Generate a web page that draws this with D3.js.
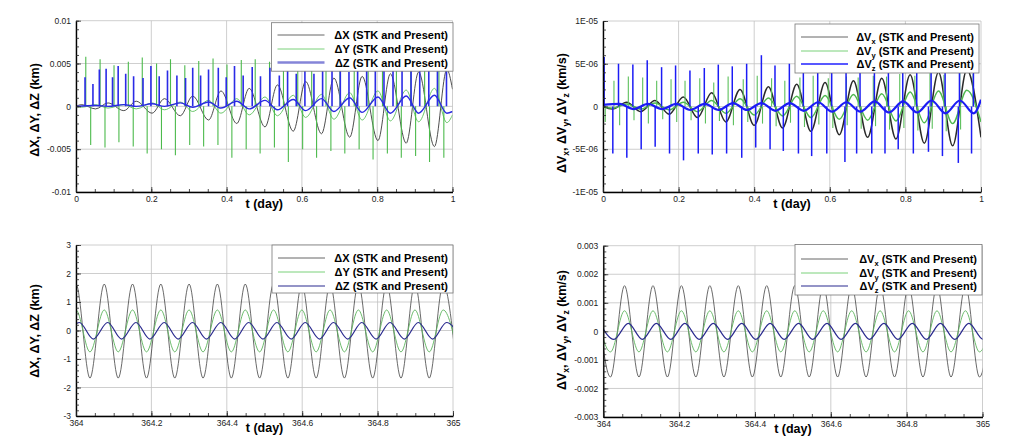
<!DOCTYPE html>
<html>
<head>
<meta charset="utf-8">
<script src="https://cdn.jsdelivr.net/npm/d3@7"></script>
<style>
body { margin: 0; background: #fff; }
text { font-family: Arial, "Liberation Sans", sans-serif; }
</style>
</head>
<body>
<svg id="chart" width="1023" height="444"></svg>
<script>
// ---------- top-left: position error, first day ----------
const tlX = [[0,0],[0.015,0.0002],[0.052,-0.0003],[0.085,0.0004],[0.127,-0.0005],[0.16,0.0006],[0.202,-0.0008],[0.235,0.0009],[0.277,-0.0011],[0.31,0.0012],[0.352,-0.0016],[0.385,0.0018],[0.427,-0.002],[0.46,0.0021],[0.502,-0.0024],[0.535,0.0025],[0.577,-0.0029],[0.61,0.0029],[0.652,-0.0032],[0.685,0.0033],[0.727,-0.0036],[0.76,0.0035],[0.802,-0.004],[0.835,0.0038],[0.877,-0.0043],[0.91,0.004],[0.952,-0.0047],[0.985,0.0043],[1.0,0.002]];
const tlY = [[0,0],[0.015,-0.0001],[0.052,0.0002],[0.085,-0.0002],[0.127,0.0002],[0.16,-0.0003],[0.202,0.0004],[0.235,-0.0004],[0.277,0.0005],[0.31,-0.0006],[0.352,0.0007],[0.385,-0.0008],[0.427,0.0009],[0.46,-0.001],[0.502,0.0011],[0.535,-0.0011],[0.577,0.0013],[0.61,-0.0013],[0.652,0.0014],[0.685,-0.0015],[0.727,0.0016],[0.76,-0.0016],[0.802,0.0018],[0.835,-0.0017],[0.877,0.0019],[0.91,-0.0018],[0.952,0.0021],[0.985,-0.0019],[1.0,-0.001]];
const tlZ = [[0,0],[0.052,0.0001],[0.085,0],[0.127,0.0002],[0.16,0],[0.202,0.0003],[0.235,0],[0.277,0.0004],[0.31,-0.0001],[0.352,0.0005],[0.385,-0.0002],[0.427,0.0006],[0.46,-0.0003],[0.502,0.0007],[0.535,-0.0004],[0.577,0.0008],[0.61,-0.0005],[0.652,0.0009],[0.685,-0.0006],[0.727,0.001],[0.76,-0.0007],[0.802,0.0011],[0.835,-0.0008],[0.877,0.0012],[0.91,-0.0008],[0.952,0.0013],[0.985,-0.0008],[1.0,-0.0006]];
const tlZSpk = [[0.000,0.0050],[0.024,0.0034],[0.045,0.0026],[0.062,0.0043],[0.080,0.0044],[0.097,0.0034],[0.112,0.0047],[0.132,0.0038],[0.153,0.0035],[0.178,0.0033],[0.199,0.0047],[0.221,0.0035],[0.243,0.0042],[0.268,0.0036],[0.291,0.0033],[0.310,0.0045],[0.331,0.0036],[0.352,0.0043],[0.378,0.0045],[0.399,0.0034],[0.421,0.0047],[0.444,0.0036],[0.468,0.0046],[0.490,0.0035],[0.515,0.0045],[0.540,0.0036],[0.562,0.0045],[0.585,0.0038],[0.608,0.0046],[0.632,0.0038],[0.655,0.0046],[0.680,0.0042],[0.702,0.0046],[0.725,0.0040],[0.748,0.0047],[0.772,0.0042],[0.795,0.0048],[0.818,0.0042],[0.842,0.0048],[0.866,0.0043],[0.890,0.0048],[0.913,0.0044],[0.937,0.0048],[0.960,0.0045],[0.984,0.0048]];
const tlYUp = [[0.026,0.0058],[0.064,0.0055],[0.101,0.0048],[0.139,0.0052],[0.176,0.0057],[0.214,0.005],[0.251,0.0055],[0.289,0.0048],[0.326,0.0053],[0.364,0.0056],[0.401,0.0049],[0.439,0.0054],[0.476,0.0055],[0.514,0.0052],[0.551,0.0057],[0.589,0.0056],[0.626,0.005],[0.664,0.0055],[0.701,0.0054],[0.739,0.0049],[0.776,0.0055],[0.814,0.0056],[0.851,0.0052],[0.889,0.0055],[0.926,0.0054],[0.964,0.0056]];
const tlYDn = [[0.039,-0.0045],[0.077,-0.0048],[0.114,-0.0042],[0.152,-0.0047],[0.189,-0.0055],[0.227,-0.005],[0.264,-0.0057],[0.302,-0.0045],[0.339,-0.0047],[0.377,-0.0045],[0.414,-0.006],[0.452,-0.005],[0.489,-0.0055],[0.527,-0.0048],[0.564,-0.0065],[0.602,-0.005],[0.639,-0.006],[0.677,-0.0052],[0.714,-0.0055],[0.752,-0.005],[0.789,-0.0062],[0.827,-0.0055],[0.864,-0.006],[0.902,-0.0058],[0.939,-0.0065],[0.977,-0.006]];

// ---------- top-right: velocity error, first day ----------
const trX = [[0,0],[0.025,-0.3e-6],[0.0625,0.5e-6],[0.1,-0.6e-6],[0.1375,0.7e-6],[0.175,-0.9e-6],[0.2125,1.1e-6],[0.25,-1.3e-6],[0.2875,1.6e-6],[0.325,-1.8e-6],[0.3625,2.0e-6],[0.4,-2.2e-6],[0.4375,2.3e-6],[0.475,-2.5e-6],[0.5125,2.6e-6],[0.55,-2.9e-6],[0.5875,2.8e-6],[0.625,-3.3e-6],[0.6625,3.0e-6],[0.7,-3.6e-6],[0.7375,3.3e-6],[0.775,-3.8e-6],[0.8125,3.7e-6],[0.85,-4.3e-6],[0.8875,4.0e-6],[0.925,-4.6e-6],[0.9625,4.3e-6],[1.0,-3.6e-6]];
const trY = [[0,0],[0.025,-0.2e-6],[0.0625,0.3e-6],[0.1,-0.3e-6],[0.1375,0.4e-6],[0.175,-0.4e-6],[0.2125,0.5e-6],[0.25,-0.6e-6],[0.2875,0.7e-6],[0.325,-0.8e-6],[0.3625,0.9e-6],[0.4,-1.0e-6],[0.4375,1.0e-6],[0.475,-1.1e-6],[0.5125,1.2e-6],[0.55,-1.3e-6],[0.5875,1.3e-6],[0.625,-1.5e-6],[0.6625,1.4e-6],[0.7,-1.6e-6],[0.7375,1.5e-6],[0.775,-1.7e-6],[0.8125,1.7e-6],[0.85,-1.9e-6],[0.8875,1.8e-6],[0.925,-2.0e-6],[0.9625,1.9e-6],[1.0,-1.8e-6]];
const trZ = [[0,0.2e-6],[0.044,0.3e-6],[0.081,-0.3e-6],[0.119,0.3e-6],[0.156,-0.3e-6],[0.194,0.3e-6],[0.231,-0.4e-6],[0.269,0.3e-6],[0.306,-0.4e-6],[0.344,0.4e-6],[0.381,-0.4e-6],[0.419,0.4e-6],[0.456,-0.5e-6],[0.494,0.4e-6],[0.531,-0.5e-6],[0.569,0.5e-6],[0.606,-0.6e-6],[0.644,0.5e-6],[0.681,-0.6e-6],[0.719,0.6e-6],[0.756,-0.7e-6],[0.794,0.6e-6],[0.831,-0.7e-6],[0.869,0.7e-6],[0.906,-0.8e-6],[0.944,0.7e-6],[0.981,-0.8e-6],[1.0,0.8e-6]];
const trZUp = [[0.003,5.8e-6],[0.041,5.0e-6],[0.079,4.9e-6],[0.117,5.4e-6],[0.155,4.6e-6],[0.192,4.8e-6],[0.23,4.2e-6],[0.268,4.5e-6],[0.305,4.9e-6],[0.342,4.7e-6],[0.38,5.0e-6],[0.419,6.0e-6],[0.455,4.8e-6],[0.493,5.0e-6],[0.53,5.2e-6],[0.568,4.9e-6],[0.605,5.0e-6],[0.643,5.1e-6],[0.68,4.8e-6],[0.718,5.0e-6],[0.755,5.1e-6],[0.793,4.9e-6],[0.83,5.0e-6],[0.868,5.1e-6],[0.905,5.0e-6],[0.943,5.2e-6],[0.98,5.0e-6]];
const trZDn = [[0.026,-5.5e-6],[0.063,-6.0e-6],[0.101,-5.0e-6],[0.138,-4.7e-6],[0.176,-5.5e-6],[0.213,-6.3e-6],[0.252,-5.5e-6],[0.289,-5.6e-6],[0.327,-5.5e-6],[0.367,-6.0e-6],[0.404,-4.8e-6],[0.442,-5.0e-6],[0.477,-5.2e-6],[0.517,-5.5e-6],[0.552,-5.8e-6],[0.592,-5.5e-6],[0.64,-6.5e-6],[0.671,-5.5e-6],[0.711,-5.5e-6],[0.746,-5.5e-6],[0.781,-5.0e-6],[0.821,-5.5e-6],[0.861,-5.3e-6],[0.898,-5.8e-6],[0.94,-6.6e-6],[0.975,-5.5e-6]];
const trYUp = [[0.029,3.0e-6],[0.067,3.5e-6],[0.105,3.4e-6],[0.142,3.0e-6],[0.18,3.2e-6],[0.217,3.0e-6],[0.256,3.3e-6],[0.293,2.8e-6],[0.331,3.5e-6],[0.371,3.2e-6],[0.408,3.6e-6],[0.446,3.3e-6],[0.481,3.0e-6],[0.521,3.4e-6],[0.556,3.6e-6],[0.596,3.3e-6],[0.644,3.5e-6],[0.675,3.4e-6],[0.715,3.6e-6],[0.75,3.5e-6],[0.785,3.8e-6],[0.825,3.6e-6],[0.865,3.9e-6],[0.902,3.7e-6],[0.944,4.0e-6],[0.979,3.8e-6]];
const trYDn = [[0.006,-1.8e-6],[0.044,-2.2e-6],[0.082,-1.6e-6],[0.12,-2.0e-6],[0.158,-1.5e-6],[0.195,-1.8e-6],[0.233,-1.6e-6],[0.271,-2.0e-6],[0.308,-1.7e-6],[0.345,-2.2e-6],[0.383,-1.8e-6],[0.422,-2.0e-6],[0.458,-2.3e-6],[0.496,-1.9e-6],[0.533,-2.4e-6],[0.571,-2.1e-6],[0.608,-2.5e-6],[0.646,-2.2e-6],[0.683,-2.6e-6],[0.721,-2.3e-6],[0.758,-2.7e-6],[0.796,-2.5e-6],[0.833,-2.8e-6],[0.871,-2.6e-6],[0.908,-2.9e-6],[0.946,-2.7e-6]];

// ---------- bottom-left: position error, last day (extrema times and values) ----------
const cPeakT    = [364.000,364.075,364.150,364.225,364.300,364.375,364.449,364.524,364.599,364.674,364.749,364.824,364.899,364.974];
const cTroughT  = [363.963,364.037,364.112,364.187,364.262,364.337,364.412,364.487,364.562,364.637,364.712,364.787,364.862,364.937,365.012];
const cZPeakT   = [364.009,364.084,364.159,364.234,364.309,364.384,364.458,364.533,364.608,364.683,364.758,364.833,364.908,364.983];
const cZTroughT = [363.972,364.046,364.121,364.196,364.271,364.346,364.421,364.496,364.571,364.646,364.721,364.796,364.871,364.946,365.021];
const cX = [1.63, -1.67];   // value at peaks, value at troughs
const cY = [0.72, -0.75];
const cZ = [0.28, -0.30];

// ---------- bottom-right: velocity error, last day ----------
const dPeakT    = [363.981,364.056,364.131,364.206,364.281,364.356,364.431,364.505,364.580,364.655,364.730,364.805,364.880,364.955,365.030];
const dTroughT  = [364.019,364.094,364.169,364.244,364.318,364.393,364.468,364.543,364.618,364.693,364.768,364.843,364.917,364.992];
const dZPeakT   = [363.991,364.066,364.140,364.215,364.290,364.365,364.440,364.515,364.590,364.665,364.740,364.815,364.889,364.964,365.039];
const dZTroughT = [364.028,364.103,364.178,364.253,364.328,364.402,364.477,364.552,364.627,364.702,364.777,364.852,364.927,365.002];
const dX = [0.0016, -0.0016];
const dY = [0.00072, -0.00072];
const dZ = [0.00028, -0.00028];

// ---------- ticks ----------
const tDayTicks = [0, 0.2, 0.4, 0.6, 0.8, 1];
const tDayLabels = ['0', '0.2', '0.4', '0.6', '0.8', '1'];
const t364Ticks = [364, 364.2, 364.4, 364.6, 364.8, 365];
const t364Labels = ['364', '364.2', '364.4', '364.6', '364.8', '365'];
const posTicks1 = [-0.01, -0.005, 0, 0.005, 0.01];
const posLabels1 = ['-0.01', '-0.005', '0', '0.005', '0.01'];
const velTicks1 = [-1e-5, -5e-6, 0, 5e-6, 1e-5];
const velLabels1 = ['-1E-05', '-5E-06', '0', '5E-06', '1E-05'];
const posTicks2 = [-3, -2, -1, 0, 1, 2, 3];
const posLabels2 = ['-3', '-2', '-1', '0', '1', '2', '3'];
const velTicks2 = [-0.003, -0.002, -0.001, 0, 0.001, 0.002, 0.003];
const velLabels2 = ['-0.003', '-0.002', '-0.001', '0', '0.001', '0.002', '0.003'];

function merge(peakT, troughT, amp) {
    let pts = peakT.map(t => [t, amp[0]]).concat(troughT.map(t => [t, amp[1]]));
    return pts.sort((a, b) => a[0] - b[0]);
}

const svg = d3.select('#chart');

function panel(o) {
    const x = d3.scaleLinear().domain(o.xDom).range([o.l, o.r]);
    const y = d3.scaleLinear().domain(o.yDom).range([o.b, o.t]);
    const g = svg.append('g');

    // grid
    g.selectAll(null).data(o.xTicks).join('line')
        .attr('x1', d => x(d)).attr('x2', d => x(d))
        .attr('y1', o.t).attr('y2', o.b)
        .attr('stroke', '#c2c2c2').attr('stroke-width', 0.8);
    g.selectAll(null).data(o.yTicks).join('line')
        .attr('x1', o.l).attr('x2', o.r)
        .attr('y1', d => y(d)).attr('y2', d => y(d))
        .attr('stroke', '#c2c2c2').attr('stroke-width', 0.8);

    svg.append('clipPath').attr('id', o.id).append('rect')
        .attr('x', o.l).attr('y', o.t).attr('width', o.r - o.l).attr('height', o.b - o.t);
    const plot = g.append('g').attr('clip-path', `url(#${o.id})`);

    const line = d3.line().x(d => x(d[0])).y(d => y(d[1])).curve(d3.curveMonotoneX);

    o.series.forEach(s => {
        plot.append('path').datum(s.data)
            .attr('d', line)
            .attr('fill', 'none')
            .attr('stroke', s.color)
            .attr('stroke-width', s.w);
        (s.spikes || []).forEach(sp => {
            plot.selectAll(null).data(sp.data).join('line')
                .attr('x1', d => x(d[0])).attr('x2', d => x(d[0]))
                .attr('y1', y(0)).attr('y2', d => y(d[1]))
                .attr('stroke', sp.color).attr('stroke-width', sp.w);
        });
    });

    // axes
    const yAxis = g.append('g').attr('transform', `translate(${o.l},0)`)
        .call(d3.axisLeft(y).tickValues(o.yTicks).tickFormat((d, i) => o.yLabels[i])
            .tickSizeInner(-5).tickSizeOuter(0).tickPadding(5));
    const yMinor = g.append('g').attr('transform', `translate(${o.l},0)`)
        .call(d3.axisLeft(y).tickValues(o.yMinor).tickFormat('').tickSizeInner(-3).tickSizeOuter(0));
    const xAxis = g.append('g').attr('transform', `translate(0,${o.b})`)
        .call(d3.axisBottom(x).tickValues(o.xTicks).tickFormat((d, i) => o.xLabels[i])
            .tickSizeInner(-5).tickSizeOuter(0).tickPadding(4));
    const xMinor = g.append('g').attr('transform', `translate(0,${o.b})`)
        .call(d3.axisBottom(x).tickValues(o.xMinor).tickFormat('').tickSizeInner(-3).tickSizeOuter(0));
    [yMinor, xMinor].forEach(a => a.select('.domain').remove());
    [yAxis, xAxis, yMinor, xMinor].forEach(a => {
        a.selectAll('.domain').attr('stroke', '#000').attr('stroke-width', 1.4);
        a.selectAll('.tick line').attr('stroke', '#222').attr('stroke-width', 0.8);
        a.selectAll('text').attr('font-size', 8.5).attr('fill', '#222')
            .attr('font-family', 'Arial, "Liberation Sans", sans-serif');
    });

    // axis titles
    g.append('text')
        .attr('x', (o.l + o.r) / 2).attr('y', o.b + 16)
        .attr('text-anchor', 'middle').attr('font-weight', 'bold').attr('font-size', 12.5)
        .text('t (day)');
    const yt = g.append('text')
        .attr('transform', `translate(${o.yTitleX},${o.yTitleY}) rotate(-90)`)
        .attr('text-anchor', 'middle').attr('font-weight', 'bold').attr('font-size', 12.5);
    o.yTitle.forEach(part => {
        if (part.sub) {
            yt.append('tspan').attr('font-size', 8.5).attr('dy', 3).text(part.sub);
            yt.append('tspan').attr('dy', -3).text(part.txt || '');
        } else {
            yt.append('tspan').text(part.txt);
        }
    });

    // legend
    const L = o.legend;
    g.append('rect').attr('x', L.l).attr('y', L.t).attr('width', L.w).attr('height', L.h)
        .attr('fill', '#fff').attr('stroke', '#777').attr('stroke-width', 0.8);
    L.rows.forEach(r => {
        g.append('line').attr('x1', L.l + 6).attr('x2', L.l + 53)
            .attr('y1', r.y).attr('y2', r.y)
            .attr('stroke', r.color).attr('stroke-width', r.w);
        const tx = g.append('text').attr('x', L.l + L.w - 5).attr('y', r.y + 4)
            .attr('text-anchor', 'end').attr('font-weight', 'bold').attr('font-size', 11);
        tx.append('tspan').text(r.main);
        if (r.sub) {
            tx.append('tspan').attr('font-size', 7.5).attr('dy', 3).text(r.sub);
            tx.append('tspan').attr('dy', -3).text(' (STK and Present)');
        } else {
            tx.append('tspan').text(' (STK and Present)');
        }
    });
}

const dayMinor = d3.range(0, 1.0001, 0.05);
const d364Minor = d3.range(364, 365.0001, 0.05);

panel({
    id: 'clipA', l: 76, r: 452.5, t: 20.7, b: 192,
    xDom: [0, 1], yDom: [-0.01, 0.01],
    xTicks: tDayTicks, xLabels: tDayLabels, xMinor: dayMinor,
    yTicks: posTicks1, yLabels: posLabels1, yMinor: d3.range(-0.01, 0.01001, 0.001),
    yTitleX: 39, yTitleY: 110,
    yTitle: [{ txt: 'ΔX, ΔY, ΔZ (km)' }],
    series: [
        { data: tlX, color: '#3a3a3a', w: 0.9 },
        { data: tlY, color: '#5cbf5c', w: 0.9,
          spikes: [{ data: tlYUp, color: '#4cba4c', w: 1.1 }, { data: tlYDn, color: '#4cba4c', w: 1.1 }] },
        { data: tlZ, color: '#2a2ae0', w: 1.4,
          spikes: [{ data: tlZSpk, color: '#2b2be6', w: 1.6 }] }
    ],
    legend: { l: 271.5, t: 22.7, w: 181.5, h: 48.5, rows: [
        { y: 35, main: 'ΔX', color: '#555', w: 0.9 },
        { y: 49, main: 'ΔY', color: '#6ccc6c', w: 0.9 },
        { y: 62.5, main: 'ΔZ', color: '#8585d8', w: 2.6 }
    ] }
});

panel({
    id: 'clipB', l: 603, r: 981, t: 21, b: 192,
    xDom: [0, 1], yDom: [-1e-5, 1e-5],
    xTicks: tDayTicks, xLabels: tDayLabels, xMinor: dayMinor,
    yTicks: velTicks1, yLabels: velLabels1, yMinor: d3.range(-10, 10.001, 1).map(v => v * 1e-6),
    yTitleX: 566, yTitleY: 113,
    yTitle: [{ txt: 'ΔV' }, { sub: 'x', txt: ', ΔV' }, { sub: 'y', txt: ', ΔV' }, { sub: 'z', txt: ' (km/s)' }],
    series: [
        { data: trX, color: '#2a2a2a', w: 1.5 },
        { data: trY, color: '#4fb84f', w: 1.5,
          spikes: [{ data: trYUp, color: '#5cc05c', w: 1.1 }, { data: trYDn, color: '#5cc05c', w: 1.1 }] },
        { data: trZ, color: '#1c1cf5', w: 2.2,
          spikes: [{ data: trZUp, color: '#1c1cf5', w: 1.5 }, { data: trZDn, color: '#1c1cf5', w: 1.5 }] }
    ],
    legend: { l: 795, t: 24, w: 184, h: 49, rows: [
        { y: 37, main: 'ΔV', sub: 'x', color: '#555', w: 0.9 },
        { y: 51, main: 'ΔV', sub: 'y', color: '#6ccc6c', w: 0.9 },
        { y: 64, main: 'ΔV', sub: 'z', color: '#2020ff', w: 1.3 }
    ] }
});

panel({
    id: 'clipC', l: 76, r: 453, t: 245, b: 416,
    xDom: [364, 365], yDom: [-3, 3],
    xTicks: t364Ticks, xLabels: t364Labels, xMinor: d364Minor,
    yTicks: posTicks2, yLabels: posLabels2, yMinor: d3.range(-3, 3.001, 0.2),
    yTitleX: 39, yTitleY: 331,
    yTitle: [{ txt: 'ΔX, ΔY, ΔZ (km)' }],
    series: [
        { data: merge(cPeakT, cTroughT, cX), color: '#444', w: 0.8 },
        { data: merge(cPeakT, cTroughT, cY), color: '#5cb35c', w: 0.9 },
        { data: merge(cZPeakT, cZTroughT, cZ), color: '#2b2b8f', w: 1.2 }
    ],
    legend: { l: 272, t: 245, w: 181, h: 48, rows: [
        { y: 258, main: 'ΔX', color: '#555', w: 0.9 },
        { y: 272, main: 'ΔY', color: '#6ccc6c', w: 0.9 },
        { y: 286, main: 'ΔZ', color: '#2b2b8f', w: 1.2 }
    ] }
});

panel({
    id: 'clipD', l: 603.3, r: 982.5, t: 245.7, b: 417,
    xDom: [364, 365], yDom: [-0.003, 0.003],
    xTicks: t364Ticks, xLabels: t364Labels, xMinor: d364Minor,
    yTicks: velTicks2, yLabels: velLabels2, yMinor: d3.range(-30, 30.001, 2).map(v => v * 1e-4),
    yTitleX: 566, yTitleY: 330,
    yTitle: [{ txt: 'ΔV' }, { sub: 'x', txt: ', ΔV' }, { sub: 'y', txt: ', ΔV' }, { sub: 'z', txt: ' (km/s)' }],
    series: [
        { data: merge(dPeakT, dTroughT, dX), color: '#444', w: 0.8 },
        { data: merge(dPeakT, dTroughT, dY), color: '#5cb35c', w: 0.9 },
        { data: merge(dZPeakT, dZTroughT, dZ), color: '#2b2b8f', w: 1.2 }
    ],
    legend: { l: 795, t: 244.5, w: 187, h: 50.5, rows: [
        { y: 259, main: 'ΔV', sub: 'x', color: '#555', w: 0.9 },
        { y: 273, main: 'ΔV', sub: 'y', color: '#6ccc6c', w: 0.9 },
        { y: 286, main: 'ΔV', sub: 'z', color: '#2b2b8f', w: 1.2 }
    ] }
});
</script>
</body>
</html>
